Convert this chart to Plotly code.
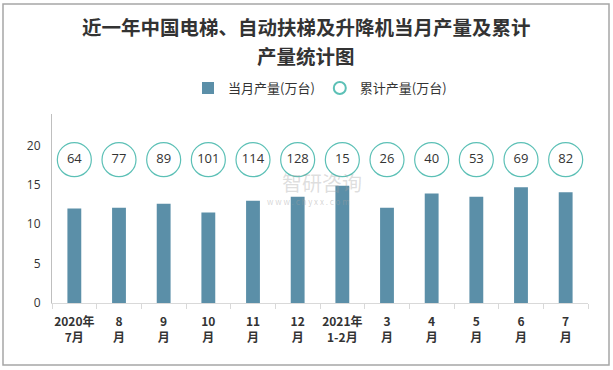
import plotly.graph_objects as go

categories = ["2020年<br>7月", "8<br>月", "9<br>月", "10<br>月", "11<br>月", "12<br>月",
              "2021年<br>1-2月", "3<br>月", "4<br>月", "5<br>月", "6<br>月", "7<br>月"]
monthly = [12.0, 12.1, 12.6, 11.5, 13.0, 13.5, 14.9, 12.1, 13.9, 13.5, 14.7, 14.05]
cumulative = [64, 77, 89, 101, 114, 128, 15, 26, 40, 53, 69, 82]
label_level = [18.2] * len(categories)

fig = go.Figure()
fig.add_trace(go.Bar(
    x=categories, y=monthly, name="当月产量(万台)",
    marker=dict(color="#5b8fa8", line=dict(width=0)), width=0.31,
))
fig.add_trace(go.Scatter(
    x=categories, y=label_level, name="累计产量(万台)", mode="markers+text",
    text=[str(v) for v in cumulative], textposition="middle center",
    textfont=dict(size=13, color="#333333", family="Open Sans, Noto Sans CJK SC"),
    marker=dict(size=34, color="rgba(255,255,255,0)", line=dict(color="#5cc0b6", width=1.2)),
))

fig.update_layout(
    width=613, height=370,
    margin=dict(l=52, r=25, t=114, b=67, autoexpand=False),
    paper_bgcolor="white", plot_bgcolor="white",
    font=dict(family="Noto Sans CJK SC", color="#333333"),
    legend=dict(orientation="h", x=0.5, xanchor="center", yref="container", y=0.762,
                yanchor="middle", font=dict(size=13, color="#333333"), itemsizing="constant",
                traceorder="normal"),
    showlegend=True,
)

# title as two centred lines
fig.add_annotation(text="<b>近一年中国电梯、自动扶梯及升降机当月产量及累计</b>", xref="paper",
                   yref="paper", x=(306 - 52) / 536, y=(303 - 26) / 189, showarrow=False,
                   xanchor="center", yanchor="middle",
                   font=dict(size=19.5, color="#333333", family="Noto Sans CJK SC"))
fig.add_annotation(text="<b>产量统计图</b>", xref="paper", yref="paper",
                   x=(306 - 52) / 536, y=(303 - 55) / 189, showarrow=False,
                   xanchor="center", yanchor="middle",
                   font=dict(size=19.5, color="#333333", family="Noto Sans CJK SC"))

fig.update_xaxes(showline=True, linecolor="#d9d9d9", linewidth=1, ticks="outside",
                 tickson="boundaries", ticklen=5, tickcolor="#d9d9d9", showgrid=False,
                 tickangle=0, automargin=False, range=[-0.5, len(categories) - 0.5],
                 ticklabelstandoff=8,
                 tickfont=dict(size=12, color="#333333", family="Noto Sans CJK SC", weight="bold"))
fig.update_yaxes(range=[0, 24], tickvals=[0, 5, 10, 15, 20], showline=True, linecolor="#bfbfbf",
                 linewidth=1, showgrid=False, zeroline=False, ticks="", automargin=False,
                 ticklabelstandoff=8,
                 tickfont=dict(size=12, color="#333333", family="Open Sans"))

# faint watermark
fig.add_annotation(text="智研咨询", xref="paper", yref="paper", x=(322 - 52) / 536,
                   y=(303 - 182) / 189, showarrow=False, yanchor="middle",
                   font=dict(size=20, color="rgba(160,160,160,0.35)"))
fig.add_annotation(text="w w w . c h y x x . c o m", xref="paper", yref="paper",
                   x=(308 - 52) / 536, y=(303 - 201) / 189, showarrow=False, yanchor="middle",
                   font=dict(size=8, color="rgba(160,160,160,0.45)"))

fig.add_shape(type="rect", xref="paper", yref="paper",
              x0=-49 / 536, x1=(609 - 52) / 536, y0=-(365 - 303) / 189, y1=(303 - 4) / 189,
              line=dict(color="#a6a6a6", width=1.5), fillcolor="rgba(0,0,0,0)", layer="below")

fig.write_html("out.html", config={"displayModeBar": False},
               post_script="document.body.style.margin='0';")
